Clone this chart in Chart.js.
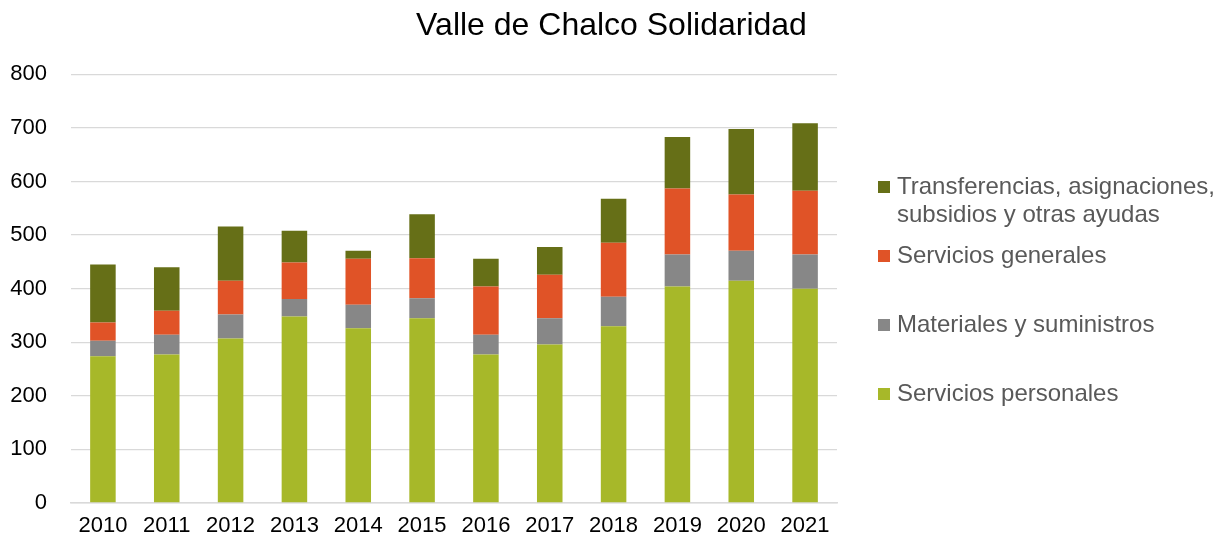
<!DOCTYPE html>
<html>
<head>
<meta charset="utf-8">
<script src="https://cdn.jsdelivr.net/npm/chart.js@4.4.1/dist/chart.umd.min.js"></script>
<style>
  html, body { margin: 0; padding: 0; background: #ffffff; }
  #wrap { width: 1223px; height: 544px; }
</style>
</head>
<body>
<div id="wrap"><canvas id="c" width="1223" height="544"></canvas></div>
<script>
const categories = ['2010','2011','2012','2013','2014','2015','2016','2017','2018','2019','2020','2021'];
const serviciosPersonales = [274, 277, 307, 348, 326, 345, 277, 296, 330, 404, 415, 400];
const materialesSuministros = [29, 37, 45, 33, 44, 37, 37, 49, 55, 60, 56, 64];
const serviciosGenerales = [34, 45, 63, 68, 86, 75, 90, 81, 101, 123, 105, 119];
const transferencias = [108, 81, 101, 59, 15, 82, 52, 52, 82, 96, 122, 126];
const yTicks = [0, 100, 200, 300, 400, 500, 600, 700, 800];

const FONT = "'Liberation Sans', Arial, sans-serif";

const legendPlugin = {
  id: 'sideLegend',
  afterDraw(chart) {
    const ctx = chart.ctx;
    const ds = chart.data.datasets.slice().reverse();
    const x0 = 878, textX = 897;
    const rows = [187, 256, 325, 394];
    ctx.save();
    ctx.font = '24px ' + FONT;
    ctx.textBaseline = 'middle';
    ctx.textAlign = 'left';
    ds.forEach((d, i) => {
      const lines = Array.isArray(d.label) ? d.label : [d.label];
      const y = rows[i];
      ctx.fillStyle = d.backgroundColor;
      ctx.fillRect(x0, y - 6, 12, 12);
      ctx.fillStyle = '#595959';
      lines.forEach((ln, j) => ctx.fillText(ln, textX, y + j * 28));
    });
    ctx.restore();
  }
};

new Chart(document.getElementById('c'), {
  type: 'bar',
  data: {
    labels: categories,
    datasets: [
      { label: 'Servicios personales', data: serviciosPersonales, backgroundColor: '#A7B829' },
      { label: 'Materiales y suministros', data: materialesSuministros, backgroundColor: '#878787' },
      { label: 'Servicios generales', data: serviciosGenerales, backgroundColor: '#E05327' },
      { label: ['Transferencias, asignaciones,', 'subsidios y otras ayudas'], data: transferencias, backgroundColor: '#666F17' }
    ].map(d => Object.assign(d, { barPercentage: 0.4, categoryPercentage: 1.0, borderWidth: 0 }))
  },
  options: {
    responsive: false,
    animation: false,
    layout: { padding: 0 },
    plugins: {
      legend: { display: false },
      tooltip: { enabled: false },
      title: {
        display: true,
        text: 'Valle de Chalco Solidaridad',
        color: '#000000',
        font: { family: FONT, size: 32, weight: 'normal' },
        padding: { top: 7, bottom: 29 },
        align: 'center',
        fullSize: true
      }
    },
    scales: {
      x: {
        stacked: true,
        grid: { display: false, drawTicks: false },
        border: { display: true, color: '#d9d9d9', width: 1.5 },
        ticks: { color: '#000000', font: { family: FONT, size: 22 }, padding: 10, maxRotation: 0 },
        afterFit(s) { s.height = 41; }
      },
      y: {
        stacked: true,
        min: 0, max: 800,
        afterBuildTicks(s) { s.ticks = yTicks.map(v => ({ value: v })); },
        grid: { color: '#d9d9d9', lineWidth: 1.3, drawTicks: false },
        border: { display: false },
        ticks: { color: '#000000', font: { family: FONT, size: 22 }, padding: 24 },
        afterFit(s) { s.width = 71; }
      },
      legendSpace: {
        type: 'linear',
        position: 'right',
        display: true,
        grid: { display: false, drawTicks: false },
        border: { display: false },
        ticks: { display: false },
        afterFit(s) { s.width = 386; }
      }
    }
  },
  plugins: [legendPlugin]
});
</script>
</body>
</html>
